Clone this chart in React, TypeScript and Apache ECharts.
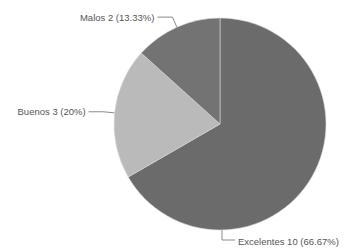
import React, { useEffect, useRef } from "react";
import * as echarts from "echarts";

const categories = ["Excelentes", "Buenos", "Malos"];
const values = [10, 3, 2];
const colors = ["#6b6b6b", "#bababa", "#737373"];

const CX = 220;
const CY = 124;
const R = 106;

export default function App() {
  const ref = useRef<HTMLDivElement>(null);
  useEffect(() => {
    document.body.style.margin = "0";
    const chart = echarts.init(ref.current!, null, { renderer: "svg" });
    chart.setOption({
      animation: false,
      backgroundColor: "#ffffff",
      series: [
        {
          type: "pie",
          center: [CX, CY],
          radius: R,
          startAngle: 90,
          clockwise: true,
          avoidLabelOverlap: false,
          data: categories.map((name, i) => ({
            name,
            value: values[i],
            itemStyle: { color: colors[i] },
          })),
          itemStyle: { borderColor: "#d8d8d8", borderWidth: 0.6 },
          label: {
            formatter: "{b} {c} ({d}%)",
            fontSize: 9.5,
            color: "#555555",
            overflow: "none",
            distanceToLabelLine: 3,
            fontFamily: "Liberation Sans, Arial, sans-serif",
          },
          labelLine: {
            length: 11,
            length2: 15,
            lineStyle: { color: "#8a8a8a", width: 1 },
          },
          labelLayout: (params: any) => {
            if (params.dataIndex === 0) {
              const ax = CX + 2;
              const ay = CY + R;
              return {
                x: ax + 16,
                y: ay + 11,
                align: "left",
                verticalAlign: "middle",
                labelLinePoints: [
                  [ax, ay],
                  [ax, ay + 10],
                  [ax + 13, ay + 10],
                ],
              };
            }
            return {};
          },
        },
      ],
    });
    return () => chart.dispose();
  }, []);
  return <div ref={ref} style={{ width: 348, height: 251 }} />;
}
